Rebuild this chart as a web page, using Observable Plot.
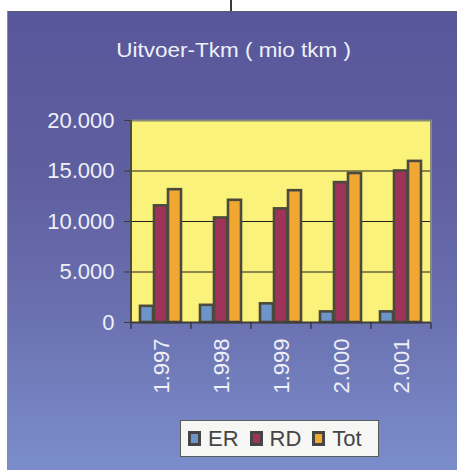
<!DOCTYPE html>
<html><head><meta charset="utf-8">
<script src="https://cdn.jsdelivr.net/npm/d3@7"></script>
<script src="https://cdn.jsdelivr.net/npm/@observablehq/plot@0.6"></script>
<style>
html,body{margin:0;padding:0;background:#fff;}
#root{position:relative;width:457px;height:470px;overflow:hidden;font-family:"Liberation Sans",Arial,sans-serif;}
#panel{position:absolute;left:7px;top:11px;width:450px;height:459px;box-sizing:border-box;
  background:linear-gradient(to bottom,#59579b 0%,#5f5e9f 35%,#6a70af 65%,#7b8dcb 100%);
  border-top:1px solid #5a5a6a;border-left:1px solid #8a8aa0;}
#connector{position:absolute;left:230px;top:0;width:2px;height:11px;background:#3a3a3a;}
#title{position:absolute;left:0;width:468px;top:39px;text-align:center;color:#eef0f8;font-size:21px;line-height:21px;white-space:nowrap;}
#title span{display:inline-block;transform:scaleX(1.07);}
#chart{position:absolute;left:0;top:0;}
#legend{position:absolute;left:180px;top:420px;width:199px;height:37px;box-sizing:border-box;background:#f6f6f4;border:1px solid #5a5a5a;display:flex;align-items:center;padding-left:7px;}
.item{display:flex;align-items:center;margin-right:11px;}
.sw{width:13px;height:15px;box-sizing:border-box;border:3px solid #454545;margin-right:7px;}
.lab{font-size:22px;line-height:22px;color:#454545;}
</style>
</head><body>
<div id="root">
  <div id="connector"></div>
  <div id="panel"></div>
  <div id="title"><span>Uitvoer-Tkm ( mio tkm )</span></div>
  <div id="chart"></div>
  <div id="legend"></div>
</div>
<script>
const years = ["1.997", "1.998", "1.999", "2.000", "2.001"];
const series = ["ER", "RD", "Tot"];
const erValues = [1600, 1700, 1850, 1050, 1050];
const rdValues = [11550, 10350, 11250, 13850, 15000];
const totValues = [13150, 12100, 13050, 14750, 15950];
const seriesColors = ["#6d95c9", "#a0335a", "#f0a832"];
const yTicks = [0, 5000, 10000, 15000, 20000];
const gridTicks = [5000, 10000, 15000];

const values = [erValues, rdValues, totValues];
const data = years.flatMap((yr, i) => series.map((s, j) => ({year: yr, series: s, value: values[j][i]})));
const fmt = d3.formatLocale({decimal: ",", thousands: ".", grouping: [3], currency: ["", ""]}).format(",d");

const plot = Plot.plot({
  width: 457, height: 470,
  marginLeft: 129, marginRight: 25, marginTop: 120, marginBottom: 148,
  style: {background: "transparent", fontFamily: "Liberation Sans, Arial, sans-serif", overflow: "visible"},
  fx: {domain: years, padding: 0, label: null},
  x: {domain: series, paddingInner: 0.04, paddingOuter: 0.62, axis: null},
  y: {domain: [0, 20000], label: null},
  color: {domain: series, range: seriesColors},
  marks: [
    Plot.frame({fill: "#fbf27c", stroke: "#fbf27c", strokeWidth: 1}),
    Plot.gridY(gridTicks, {stroke: "#1e1e1e", strokeOpacity: 1, strokeWidth: 1.2}),
    Plot.ruleY([20000], {stroke: "#8a8a78", strokeWidth: 2}),
    Plot.barY(data, {fx: "year", x: "series", y: "value", fill: "series", stroke: "#4b4a3c", strokeWidth: 2.6}),
    Plot.ruleY([0], {stroke: "#3e3e3e", strokeWidth: 2}),
    Plot.axisY(yTicks, {tickFormat: fmt, tickSize: 7, tickPadding: 10, fontSize: 22, fill: "#eef0f8", stroke: "#3a3a3a", label: null}),
    Plot.axisFx({anchor: "bottom", tickSize: 0, tickRotate: -90, tickPadding: 16, fontSize: 22, fill: "#eef0f8", label: null})
  ]
});

// category boundary ticks and side borders, positioned from Plot's own scales
const fx = plot.scale("fx");
const ys = plot.scale("y");
const y0 = ys.apply(0), yTop = ys.apply(20000);
const bounds = years.map(v => fx.apply(v)).concat([fx.apply(years[years.length - 1]) + fx.bandwidth]);
const svg = d3.select(plot);
const g = svg.append("g");
g.selectAll("line.b").data(bounds).join("line")
  .attr("x1", d => d).attr("x2", d => d).attr("y1", y0).attr("y2", y0 + 7)
  .attr("stroke", "#3a3a3a").attr("stroke-width", 1.5);
g.append("line").attr("x1", bounds[0]).attr("x2", bounds[0]).attr("y1", yTop).attr("y2", y0)
  .attr("stroke", "#4a4a44").attr("stroke-width", 2);
g.append("line").attr("x1", bounds[bounds.length - 1]).attr("x2", bounds[bounds.length - 1]).attr("y1", yTop).attr("y2", y0)
  .attr("stroke", "#8a8a78").attr("stroke-width", 2);

document.getElementById("chart").appendChild(plot);

const legend = document.getElementById("legend");
series.forEach((s, i) => {
  const it = document.createElement("div"); it.className = "item";
  const sw = document.createElement("div"); sw.className = "sw"; sw.style.background = seriesColors[i];
  const lab = document.createElement("span"); lab.className = "lab"; lab.textContent = s;
  it.appendChild(sw); it.appendChild(lab); legend.appendChild(it);
});
</script>
</body></html>
